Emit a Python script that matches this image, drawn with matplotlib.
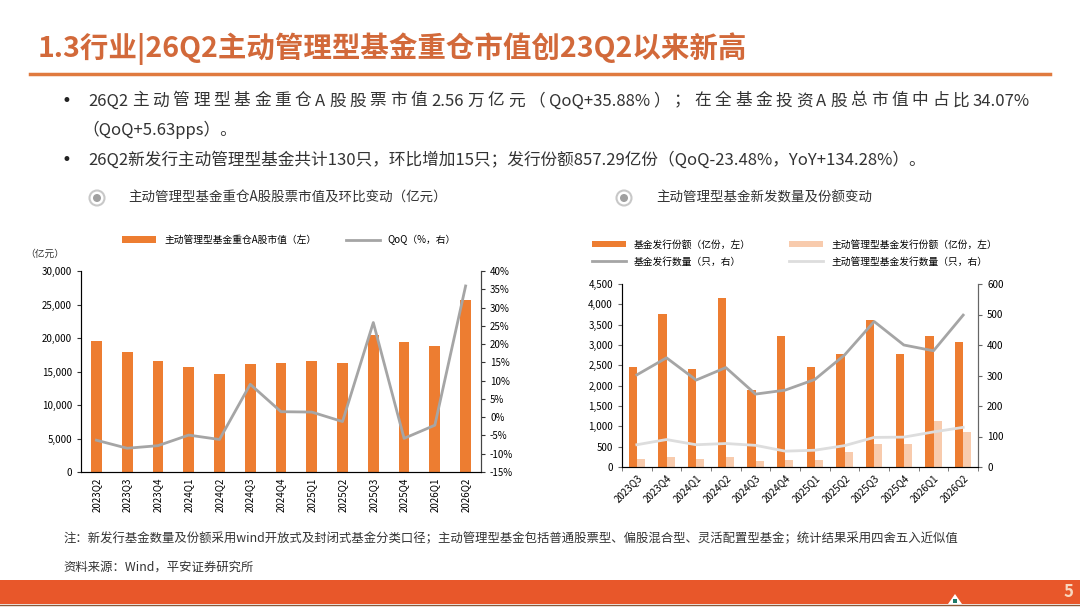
import matplotlib
matplotlib.use('Agg')
import re
import matplotlib.pyplot as plt
import numpy as np
from matplotlib.patches import Rectangle, Circle, Polygon
from matplotlib.ticker import FuncFormatter, MultipleLocator

plt.rcParams['font.family'] = ['Noto Sans CJK SC', 'DejaVu Sans']
plt.rcParams['axes.unicode_minus'] = False

# Données graphique gauche (亿元, %)
quarters_l = ['2023Q2', '2023Q3', '2023Q4', '2024Q1', '2024Q2', '2024Q3', '2024Q4',
              '2025Q1', '2025Q2', '2025Q3', '2025Q4', '2026Q1', '2026Q2']
mv_active = [19600, 17950, 16550, 15700, 14650, 16050, 16300,
             16550, 16300, 20400, 19350, 18850, 25600]
qoq = [-6.3, -8.5, -7.8, -4.9, -6.1, 9.0, 1.5, 1.4, -1.2, 25.9, -5.8, -2.2, 35.9]

# Données graphique droite
quarters_r = ['2023Q3', '2023Q4', '2024Q1', '2024Q2', '2024Q3', '2024Q4',
              '2025Q1', '2025Q2', '2025Q3', '2025Q4', '2026Q1', '2026Q2']
share_all = [2470, 3760, 2410, 4160, 1890, 3230, 2470, 2770, 3620, 2780, 3230, 3080]
share_active = [200, 240, 205, 240, 150, 180, 175, 366, 570, 575, 1120, 857]
count_all = [302, 358, 285, 326, 239, 252, 287, 367, 477, 400, 381, 498]
count_active = [73, 90, 73, 77, 71, 52, 55, 70, 97, 98, 115, 130]

c_orange = '#ED7D31'
c_light = '#F8CBAD'
c_gray = '#A5A5A5'
c_lgray = '#DDDDDD'
c_title = '#D2693A'
c_txt = '#333333'

W, H = 1080, 608
fig = plt.figure(figsize=(W / 100, H / 100), dpi=100)

def box(x0, y0, x1, y1):
    return [x0 / W, 1 - y1 / H, (x1 - x0) / W, (y1 - y0) / H]

# Calque de décor en pixels
deco = fig.add_axes([0, 0, 1, 1])
deco.set_xlim(0, W)
deco.set_ylim(H, 0)
deco.axis('off')

# Texte justifié : les caractères chinois sont espacés, les groupes latins restent groupés
def texte_justifie(ax, x0, x1, y, s, **kw):
    r = fig.canvas.get_renderer()
    morceaux = re.findall(r'[\x21-\x7e]+|.', s)
    largeurs = []
    for m in morceaux:
        t = ax.text(0, 0, m, **kw)
        largeurs.append(t.get_window_extent(r).width)
        t.remove()
    gap = (x1 - x0 - sum(largeurs)) / (len(morceaux) - 1)
    x = x0
    for m, w in zip(morceaux, largeurs):
        ax.text(x, y, m, va='center', ha='left', **kw)
        x += w + gap

deco.text(38, 49, '1.3行业|26Q2主动管理型基金重仓市值创23Q2以来新高', fontsize=20.5,
          color=c_title, fontweight='bold', va='center', ha='left')
deco.plot([30, 1050], [74, 74], color='#E07A3F', lw=2.5)

deco.text(62, 101, '•', fontsize=12, color='#222222', va='center', family='DejaVu Sans')
texte_justifie(deco, 88, 1030, 101,
               '26Q2主动管理型基金重仓A股股票市值2.56万亿元（QoQ+35.88%）；在全基金投资A股总市值中占比34.07%',
               fontsize=12, color=c_txt)
deco.text(82, 130, '（QoQ+5.63pps）。', fontsize=12, color=c_txt, va='center')
deco.text(62, 160, '•', fontsize=12, color='#222222', va='center', family='DejaVu Sans')
deco.text(88, 160, '26Q2新发行主动管理型基金共计130只，环比增加15只；发行份额857.29亿份（QoQ-23.48%，YoY+134.28%）。',
          fontsize=12, color=c_txt, va='center')

for cx, tx, t in [(97, 128, '主动管理型基金重仓A股股票市值及环比变动（亿元）'),
                  (624, 656, '主动管理型基金新发数量及份额变动')]:
    deco.add_patch(Circle((cx, 198), 7.5, facecolor='white', edgecolor='#C8C8C8', lw=1.5))
    deco.add_patch(Circle((cx, 198), 4, facecolor='#A0A0A0', edgecolor='none'))
    deco.text(tx, 198, t, fontsize=9.7, color=c_txt, va='center')

deco.text(63, 539, '注：新发行基金数量及份额采用wind开放式及封闭式基金分类口径；主动管理型基金包括普通股票型、偏股混合型、灵活配置型基金；统计结果采用四舍五入近似值',
          fontsize=8.9, color=c_txt, va='center')
deco.text(63, 567, '资料来源：Wind，平安证券研究所', fontsize=8.9, color=c_txt, va='center')

deco.add_patch(Rectangle((0, 580), W, 24, facecolor='#E8572A', edgecolor='none'))
deco.plot([0, W], [604.5, 604.5], color='#8A5A3A', lw=1)
deco.add_patch(Polygon([[948, 604], [955, 594], [962, 604]], closed=True, facecolor='white', edgecolor='none'))
deco.add_patch(Rectangle((953, 599), 4, 4, facecolor='#1E7A6A', edgecolor='none'))
deco.text(1068, 592, '5', fontsize=12, color='#F8D8C0', fontweight='bold', ha='center', va='center')

fmt_k = FuncFormatter(lambda v, p: f'{int(v):,}')

# Graphique gauche
ax1 = fig.add_axes(box(81, 271, 481, 472))
x1 = np.arange(len(quarters_l))
b1 = ax1.bar(x1, mv_active, width=0.35, color=c_orange, label='主动管理型基金重仓A股市值（左）', zorder=2)
ax1.set_xlim(-0.5, len(quarters_l) - 0.5)
ax1.set_ylim(0, 30000)
ax1.yaxis.set_major_locator(MultipleLocator(5000))
ax1.yaxis.set_major_formatter(fmt_k)
ax1.set_xticks(x1)
ax1.set_xticklabels(quarters_l, rotation=90, fontsize=7)
ax1.tick_params(axis='y', labelsize=7, length=3, color='#333333')
ax1.tick_params(axis='x', length=0, pad=4)
ax1.spines['top'].set_visible(False)
for s in ['left', 'bottom', 'right']:
    ax1.spines[s].set_color('#444444')
    ax1.spines[s].set_linewidth(0.8)
ax1b = ax1.twinx()
l1, = ax1b.plot(x1, qoq, color=c_gray, lw=2, label='QoQ（%，右）', zorder=3)
ax1b.set_ylim(-15, 40)
ax1b.yaxis.set_major_locator(MultipleLocator(5))
ax1b.yaxis.set_major_formatter(FuncFormatter(lambda v, p: f'{int(round(v))}%'))
ax1b.tick_params(axis='y', labelsize=7, length=3, color='#333333')
ax1b.spines['top'].set_visible(False)
ax1b.spines['right'].set_color('#444444')
ax1.text(-0.09, 1.06, '（亿元）', transform=ax1.transAxes, fontsize=7, color=c_txt, ha='center', va='bottom')
ax1.legend(handles=[b1, l1], loc='center', bbox_to_anchor=(0.52, 1.155), ncol=2, frameon=False,
           fontsize=7, handlelength=3.5, columnspacing=3, handleheight=0.6)

# Graphique droite
ax2 = fig.add_axes(box(622, 284, 978, 467))
x2 = np.arange(len(quarters_r))
bw = 0.27
b2 = ax2.bar(x2 - bw / 2, share_all, width=bw, color=c_orange, label='基金发行份额（亿份，左）', zorder=2)
b3 = ax2.bar(x2 + bw / 2, share_active, width=bw, color=c_light, label='主动管理型基金发行份额（亿份，左）', zorder=2)
ax2.set_xlim(-0.5, len(quarters_r) - 0.5)
ax2.set_ylim(0, 4500)
ax2.yaxis.set_major_locator(MultipleLocator(500))
ax2.yaxis.set_major_formatter(fmt_k)
ax2.set_xticks(x2)
ax2.set_xticklabels(quarters_r, rotation=45, ha='right', rotation_mode='anchor', fontsize=7)
ax2.set_xticks(np.arange(-0.5, len(quarters_r), 1), minor=True)
ax2.tick_params(axis='x', which='major', length=0, pad=4)
ax2.tick_params(axis='x', which='minor', length=3, color='#666666')
ax2.tick_params(axis='y', labelsize=7, length=3, color='#666666')
ax2.spines['top'].set_visible(False)
for s in ['left', 'bottom', 'right']:
    ax2.spines[s].set_color('#666666')
    ax2.spines[s].set_linewidth(0.8)
ax2b = ax2.twinx()
l2, = ax2b.plot(x2, count_all, color=c_gray, lw=2, label='基金发行数量（只，右）', zorder=3)
l3, = ax2b.plot(x2, count_active, color=c_lgray, lw=2, label='主动管理型基金发行数量（只，右）', zorder=3)
ax2b.set_ylim(0, 600)
ax2b.yaxis.set_major_locator(MultipleLocator(100))
ax2b.tick_params(axis='y', labelsize=7, length=3, color='#666666')
ax2b.spines['top'].set_visible(False)
ax2b.spines['right'].set_color('#666666')
fig.legend(handles=[b2, l2, b3, l3], loc='upper left', bbox_to_anchor=(583 / W, 1 - 231 / H), ncol=2,
           frameon=False, fontsize=7, handlelength=3.5, columnspacing=4, handleheight=0.6, labelspacing=0.7)

fig.savefig('out.png', dpi=100)
